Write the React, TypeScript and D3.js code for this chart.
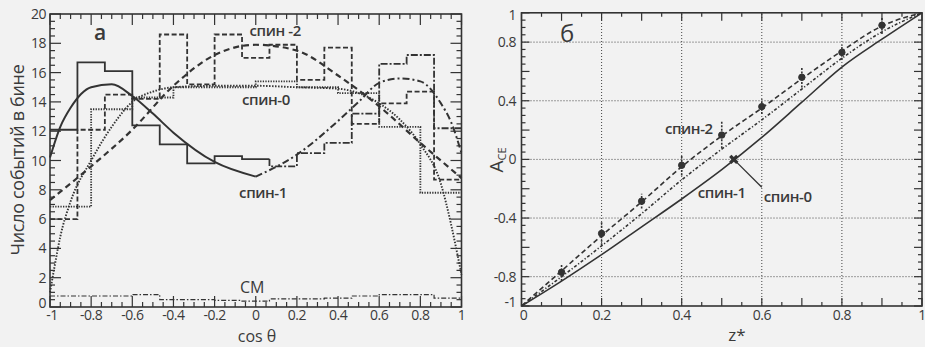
import { useEffect, useRef } from 'react';
import * as d3 from 'd3';

// ---------- panel а : events per bin vs cos θ ----------
// 15-bin histograms (width 2/15)
const spin2Hist = [6.0, 12.1, 14.5, 14.2, 18.6, 15.2, 18.6, 17.0, 17.9, 15.5, 17.7, 12.5, 13.9, 14.7, 8.7];
const spin1Hist = [12.1, 16.7, 16.1, 12.4, 11.1, 9.8, 10.3, 10.1, 9.6, 10.5, 11.2, 13.2, 16.6, 17.2, 12.2];
const smHist = [0.75, 0.75, 0.75, 0.85, 0.5, 0.5, 0.45, 0.4, 0.55, 0.55, 0.6, 0.75, 0.85, 0.85, 0.6];
// 10-bin histogram (width 0.2)
const spin0Hist = [6.85, 13.5, 14.3, 15.0, 15.0, 15.4, 15.0, 14.6, 12.3, 7.8];

// fitted curves
const spin0CurveX = [-1, -0.98, -0.95, -0.9, -0.8, -0.7, -0.6, -0.5, -0.4, -0.2, 0, 0.2, 0.4, 0.5, 0.6, 0.7, 0.8, 0.9, 0.95, 0.98, 1];
const spin0CurveY = [1.0, 2.6, 4.8, 7.2, 10.0, 12.3, 14.0, 14.7, 15.0, 15.1, 15.1, 15.0, 14.9, 14.6, 13.9, 12.8, 11.1, 8.4, 5.6, 3.6, 2.2];
const spin1CurveX = [-1, -0.95, -0.9, -0.8, -0.7, -0.6, -0.5, -0.4, -0.2, 0, 0.2, 0.4, 0.5, 0.6, 0.7, 0.8, 0.9, 0.95, 1];
const spin1CurveY = [10.2, 12.3, 13.6, 15.0, 15.2, 14.4, 13.2, 11.9, 9.9, 8.9, 10.4, 12.7, 14.0, 15.3, 15.6, 15.4, 13.9, 12.6, 10.5];
const spin2CurveX = [-1, -0.8, -0.6, -0.4, -0.2, 0, 0.2, 0.4, 0.6, 0.8, 1];
const spin2CurveY = [7.3, 9.6, 12.1, 15.1, 17.2, 17.9, 17.5, 15.8, 13.7, 11.2, 8.8];

const cosLabels = [-1, -0.8, -0.6, -0.4, -0.2, 0, 0.2, 0.4, 0.6, 0.8, 1];
const countLabels = [0, 2, 4, 6, 8, 10, 12, 14, 16, 18, 20];

// ---------- panel б : A_CE vs z* ----------
const zGrid = [0, 0.1, 0.2, 0.3, 0.4, 0.5, 0.6, 0.7, 0.8, 0.9, 1];
const aceSpin1 = [-1, -0.83, -0.65, -0.46, -0.27, -0.07, 0.15, 0.39, 0.63, 0.82, 1.0];
const aceSpin0 = [-1, -0.8, -0.59, -0.37, -0.14, 0.07, 0.27, 0.48, 0.69, 0.87, 1.0];
const aceSpin2 = [-1, -0.76, -0.52, -0.29, -0.05, 0.16, 0.35, 0.55, 0.74, 0.91, 1.0];
const pointZ = [0.1, 0.2, 0.3, 0.4, 0.5, 0.6, 0.7, 0.8, 0.9];
const pointA = [-0.77, -0.505, -0.285, -0.04, 0.166, 0.36, 0.56, 0.73, 0.915];
const pointErr = [0.06, 0.08, 0.05, 0.07, 0.09, 0.05, 0.07, 0.05, 0.06];
const zLabels = [0, 0.2, 0.4, 0.6, 0.8, 1];
const aceLabels = [-1, -0.8, -0.4, 0, 0.4, 0.8, 1];
const aceGrid = [-0.8, -0.4, 0, 0.4, 0.8];
const zGridLines = [0.2, 0.4, 0.6, 0.8];

const W = 925;
const H = 347;
const INK = '#333';
const FONT = '"Open Sans", "DejaVu Sans", sans-serif';

type Sel = d3.Selection<SVGGElement, unknown, null, undefined>;

function fmt(v: number) {
  return String(+v.toFixed(2));
}

function frameTicks(
  g: Sel,
  x: d3.ScaleLinear<number, number>,
  y: d3.ScaleLinear<number, number>,
  xMajor: number, xMinor: number, yMajor: number, yMinor: number,
  majLen: number, minLen: number,
) {
  const [x0, x1] = x.domain();
  const [y0, y1] = y.domain();
  const [px0, px1] = x.range();
  const [py0, py1] = y.range();
  const eps = 1e-6;
  const isMajor = (v: number, lo: number, step: number) => Math.abs(((v - lo) / step) - Math.round((v - lo) / step)) < 1e-4;

  const xs = d3.range(x0, x1 + eps, xMinor);
  const ys = d3.range(y0, y1 + eps, yMinor);
  const t = g.append('g').attr('stroke', INK).attr('stroke-width', 1.2);
  xs.forEach(v => {
    const len = isMajor(v, x0, xMajor) ? majLen : minLen;
    t.append('line').attr('x1', x(v)).attr('x2', x(v)).attr('y1', py0).attr('y2', py0 - len);
    t.append('line').attr('x1', x(v)).attr('x2', x(v)).attr('y1', py1).attr('y2', py1 + len);
  });
  ys.forEach(v => {
    const len = isMajor(v, y0, yMajor) ? majLen : minLen;
    t.append('line').attr('y1', y(v)).attr('y2', y(v)).attr('x1', px0).attr('x2', px0 + len);
    t.append('line').attr('y1', y(v)).attr('y2', y(v)).attr('x1', px1).attr('x2', px1 - len);
  });
  g.append('rect')
    .attr('x', px0).attr('y', py1)
    .attr('width', px1 - px0).attr('height', py0 - py1)
    .attr('fill', 'none').attr('stroke', INK).attr('stroke-width', 1.6);
}

function stepPoints(edges: number[], vals: number[], from = 0, to = vals.length) {
  const pts: [number, number][] = [];
  for (let i = from; i < to; i++) pts.push([edges[i], vals[i]]);
  pts.push([edges[to], vals[to - 1]]);
  return pts;
}

function drawLeft(svg: d3.Selection<SVGSVGElement, unknown, null, undefined>) {
  const x = d3.scaleLinear().domain([-1, 1]).range([50, 461.5]);
  const y = d3.scaleLinear().domain([0, 20]).range([307, 14]);
  const g = svg.append('g') as unknown as Sel;

  const edges15 = d3.range(16).map(i => -1 + (i * 2) / 15);
  const edges10 = d3.range(11).map(i => -1 + i * 0.2);

  const step = d3.line<[number, number]>().x(d => x(d[0])).y(d => y(d[1])).curve(d3.curveStepAfter);
  const smooth = d3.line<[number, number]>().x(d => x(d[0])).y(d => y(d[1])).curve(d3.curveMonotoneX);

  const path = (d: string | null, dash: string | null, w: number) =>
    g.append('path').attr('d', d).attr('fill', 'none').attr('stroke', INK)
      .attr('stroke-width', w).attr('stroke-dasharray', dash);

  // SM
  path(step(stepPoints(edges15, smHist)), '5,2,1.5,2', 1.2);

  // spin-0 (dotted)
  path(step(stepPoints(edges10, spin0Hist)), '1.3,1.3', 1.8);
  path(smooth(spin0CurveX.map((v, i) => [v, spin0CurveY[i]] as [number, number])), '1.5,1.5', 1.9);

  // spin-2 (dashed)
  path(step(stepPoints(edges15, spin2Hist)), '5,2.5', 1.8);
  path(smooth(spin2CurveX.map((v, i) => [v, spin2CurveY[i]] as [number, number])), '6,4', 2.2);

  // spin-1 (solid on the left half, dash-dot on the right)
  path(step(stepPoints(edges15, spin1Hist, 0, 8)), null, 1.8);
  const rightHist: [number, number][] = [[edges15[8], spin1Hist[7]], ...stepPoints(edges15, spin1Hist, 8, 15)];
  path(step(rightHist), '7,2,2,2', 1.8);
  const s1 = spin1CurveX.map((v, i) => [v, spin1CurveY[i]] as [number, number]);
  path(smooth(s1.filter(d => d[0] <= 0)), null, 2);
  path(smooth(s1.filter(d => d[0] >= 0)), '7,3,2,3', 2);

  frameTicks(g, x, y, 0.2, 0.05, 2, 0.5, 11, 5);

  // tick labels
  const lab = g.append('g').attr('fill', '#3a3a3a').attr('font-family', FONT).attr('font-size', 14).attr('letter-spacing', -0.5);
  cosLabels.forEach(v => {
    lab.append('text').attr('x', x(v) + (v === -1 ? 2 : 0)).attr('y', 319.5).attr('text-anchor', 'middle').text(fmt(v));
  });
  countLabels.forEach(v => {
    lab.append('text').attr('x', 46).attr('y', y(v) + 5 - (v === 0 ? 4 : 0)).attr('text-anchor', 'end').text(fmt(v));
  });

  const txt = g.append('g').attr('fill', '#3a3a3a').attr('font-family', FONT);
  txt.append('text').attr('x', 94).attr('y', 40).attr('font-size', 21).attr('font-weight', 600).text('а');
  txt.append('text').attr('x', x(-0.03)).attr('y', y(18.5)).attr('font-size', 15).attr('font-weight', 600).attr('letter-spacing', -0.4).text('спин -2');
  txt.append('text').attr('x', x(-0.067)).attr('y', y(13.8)).attr('font-size', 15).attr('font-weight', 600).attr('letter-spacing', -0.4).text('спин-0');
  txt.append('text').attr('x', x(-0.081)).attr('y', y(7.45)).attr('font-size', 15).attr('font-weight', 600).attr('letter-spacing', -0.4).text('спин-1');
  txt.append('text').attr('x', x(-0.077)).attr('y', y(0.95)).attr('font-size', 16).attr('font-weight', 500).text('СМ');
  txt.append('text').attr('x', 257).attr('y', 341.5).attr('font-size', 16).attr('text-anchor', 'middle').text('cos θ');
  txt.append('text').attr('transform', 'translate(24,160) rotate(-90)').attr('font-size', 18).attr('text-anchor', 'middle').attr('letter-spacing', -0.3).text('Число событий в бине');
}

function drawRight(svg: d3.Selection<SVGSVGElement, unknown, null, undefined>) {
  const x = d3.scaleLinear().domain([0, 1]).range([521.5, 922]);
  const y = d3.scaleLinear().domain([-1, 1]).range([306, 12.8]);
  const g = svg.append('g') as unknown as Sel;

  // grid
  const grid = g.append('g').attr('stroke', '#444').attr('stroke-width', 1).attr('stroke-dasharray', '1,2');
  zGridLines.forEach(v => grid.append('line').attr('x1', x(v)).attr('x2', x(v)).attr('y1', y(-1)).attr('y2', y(1)));
  aceGrid.forEach(v => grid.append('line').attr('y1', y(v)).attr('y2', y(v)).attr('x1', x(0)).attr('x2', x(1)));

  const line = d3.line<number>().x((_, i) => x(zGrid[i])).y(d => y(d)).curve(d3.curveMonotoneX);
  const path = (d: string | null, dash: string | null, w: number) =>
    g.append('path').attr('d', d).attr('fill', 'none').attr('stroke', INK)
      .attr('stroke-width', w).attr('stroke-dasharray', dash);

  path(line(aceSpin1), null, 1.6);
  path(line(aceSpin0), '3,2,1.2,2', 1.6);
  path(line(aceSpin2), '5,3', 1.6);

  // data points with error bars
  const pts = g.append('g').attr('stroke', INK).attr('fill', INK);
  pointZ.forEach((z, i) => {
    pts.append('line').attr('x1', x(z)).attr('x2', x(z))
      .attr('y1', y(pointA[i] - pointErr[i])).attr('y2', y(pointA[i] + pointErr[i]))
      .attr('stroke-width', 1.6).attr('stroke-dasharray', '2,1.5');
    pts.append('circle').attr('cx', x(z)).attr('cy', y(pointA[i])).attr('r', 3.2);
  });

  // spin-0 crossing marker and leader line
  const zc = 0.53;
  g.append('path').attr('d', d3.symbol(d3.symbolCross, 55)())
    .attr('transform', `translate(${x(zc)},${y(0)}) rotate(45)`).attr('fill', INK);
  g.append('line').attr('x1', x(zc)).attr('y1', y(0)).attr('x2', x(0.6)).attr('y2', y(-0.19))
    .attr('stroke', INK).attr('stroke-width', 1.3);

  frameTicks(g, x, y, 0.1, 0.05, 0.2, 0.05, 8, 4);

  const lab = g.append('g').attr('fill', '#3a3a3a').attr('font-family', FONT).attr('font-size', 14).attr('letter-spacing', -0.5);
  zLabels.forEach(v => {
    lab.append('text').attr('x', x(v) + (v === 0 ? 2 : 0)).attr('y', 319.5).attr('text-anchor', 'middle').text(fmt(v));
  });
  aceLabels.forEach(v => {
    lab.append('text').attr('x', 516).attr('y', y(v) + 5 - (v === -1 ? 4 : 0) + (v === 1 ? 2 : 0)).attr('text-anchor', 'end').text(fmt(v));
  });

  const txt = g.append('g').attr('fill', '#3a3a3a').attr('font-family', FONT);
  txt.append('text').attr('x', 560).attr('y', 42).attr('font-size', 24).attr('font-weight', 500).text('б');
  txt.append('text').attr('x', x(0.358)).attr('y', y(0.17)).attr('font-size', 15).attr('font-weight', 600).attr('letter-spacing', -0.4).text('спин-2');
  txt.append('text').attr('x', x(0.44)).attr('y', y(-0.265)).attr('font-size', 15).attr('font-weight', 600).attr('letter-spacing', -0.4).text('спин-1');
  txt.append('text').attr('x', x(0.605)).attr('y', y(-0.29)).attr('font-size', 15).attr('font-weight', 600).attr('letter-spacing', -0.4).text('спин-0');
  txt.append('text').attr('x', 737).attr('y', 341).attr('font-size', 17).attr('text-anchor', 'middle').text('z*');
  const yl = txt.append('text').attr('transform', 'translate(503,160) rotate(-90)').attr('text-anchor', 'middle');
  yl.append('tspan').attr('font-size', 19).text('A');
  yl.append('tspan').attr('font-size', 11).attr('dy', 3).text('CE');
}

export default function App() {
  const svgRef = useRef<SVGSVGElement>(null);

  useEffect(() => {
    if (!svgRef.current) return;
    const svg = d3.select(svgRef.current);
    svg.selectAll('*').remove();
    svg.append('rect').attr('width', W).attr('height', H).attr('fill', '#f2f2f2');
    drawLeft(svg);
    drawRight(svg);
  }, []);

  return (
    <div style={{ position: 'fixed', left: 0, top: 0 }}>
      <svg ref={svgRef} width={W} height={H} style={{ display: 'block' }} />
    </div>
  );
}
